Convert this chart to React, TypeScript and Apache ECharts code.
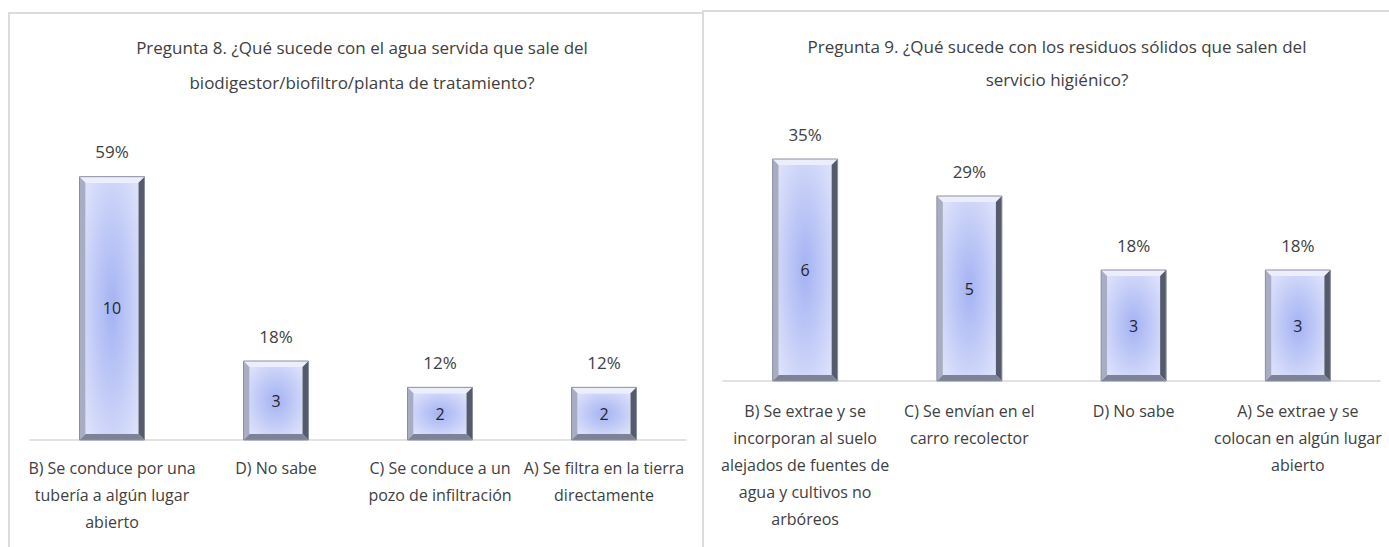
import React, { useEffect, useRef } from "react";
import * as echarts from "echarts";

const categories8 = [
  "B) Se conduce por una\ntubería a algún lugar\nabierto",
  "D) No sabe",
  "C) Se conduce a un\npozo de infiltración",
  "A) Se filtra en la tierra\ndirectamente",
];
const counts8 = [10, 3, 2, 2];
const pct8 = ["59%", "18%", "12%", "12%"];

const categories9 = [
  "B) Se extrae y se\nincorporan al suelo\nalejados de fuentes de\nagua y cultivos no\narbóreos",
  "C) Se envían en el\ncarro recolector",
  "D) No sabe",
  "A) Se extrae y se\ncolocan en algún lugar\nabierto",
];
const counts9 = [6, 5, 3, 3];
const pct9 = ["35%", "29%", "18%", "18%"];

const title8 = "Pregunta 8. ¿Qué sucede con el agua servida que sale del\nbiodigestor/biofiltro/planta de tratamiento?";
const title9 = "Pregunta 9. ¿Qué sucede con los residuos sólidos que salen del\nservicio higiénico?";

const FONT = "'Liberation Sans Narrow', 'Open Sans', sans-serif";
const TXT = "#404040";

function makeRender(pcts: string[]) {
  return (params: any, api: any) => {
    const idx = api.value(0);
    const v = api.value(1);
    const top = api.coord([idx, v]);
    const base = api.coord([idx, 0]);
    const w = 65;
    const b = 6;
    const x0 = top[0] - w / 2;
    const x1 = x0 + w;
    const y0 = top[1];
    const y1 = base[1];
    const h = y1 - y0;
    const cx = top[0];
    return {
      type: "group",
      children: [
        {
          type: "rect",
          shape: { x: x0 + b, y: y0 + b, width: w - 2 * b, height: h - 2 * b },
          style: {
            fill: new echarts.graphic.RadialGradient(0.5, 0.5, 0.75, [
              { offset: 0, color: "#a4b2f3" },
              { offset: 0.6, color: "#cad2f8" },
              { offset: 1, color: "#e2e6fb" },
            ]),
          },
        },
        {
          type: "polygon",
          shape: { points: [[x0, y0], [x1, y0], [x1 - b, y0 + b], [x0 + b, y0 + b]] },
          style: { fill: "#eceefb" },
        },
        {
          type: "polygon",
          shape: { points: [[x0, y0], [x0 + b, y0 + b], [x0 + b, y1 - b], [x0, y1]] },
          style: { fill: "#a9adc4" },
        },
        {
          type: "polygon",
          shape: { points: [[x1, y0], [x1, y1], [x1 - b, y1 - b], [x1 - b, y0 + b]] },
          style: { fill: "#555a6c" },
        },
        {
          type: "polygon",
          shape: { points: [[x0, y1], [x1, y1], [x1 - b, y1 - b], [x0 + b, y1 - b]] },
          style: { fill: "#7d8298" },
        },
        {
          type: "rect",
          shape: { x: x0, y: y0, width: w, height: h },
          style: { fill: "none", stroke: "#8a8ea2", lineWidth: 1 },
        },
        {
          type: "text",
          style: {
            x: cx,
            y: y0 + h / 2,
            text: String(v),
            align: "center",
            verticalAlign: "middle",
            fill: "#262626",
            font: `16px ${FONT}`,
          },
        },
        {
          type: "text",
          style: {
            x: cx,
            y: y0 - 25,
            text: pcts[idx],
            align: "center",
            verticalAlign: "middle",
            fill: TXT,
            font: `17px ${FONT}`,
          },
        },
      ],
    };
  };
}

export default function App() {
  const ref = useRef<HTMLDivElement>(null);
  useEffect(() => {
    if (!ref.current) return;
    const chart = echarts.init(ref.current, null, { renderer: "svg" });
    const axisCommon = {
      type: "category" as const,
      axisTick: { show: false },
      axisLine: { lineStyle: { color: "#d9d9d9", width: 1.5 } },
      axisLabel: {
        interval: 0,
        color: TXT,
        fontFamily: FONT,
        fontSize: 16,
        lineHeight: 27,
        align: "center",
      },
    };
    chart.setOption({
      animation: false,
      backgroundColor: "#ffffff",
      title: [
        {
          text: title8,
          left: 357,
          top: 25,
          textAlign: "center",
          textStyle: { color: TXT, fontFamily: FONT, fontSize: 17, fontWeight: "normal", lineHeight: 35 },
        },
        {
          text: title9,
          left: 1052,
          top: 25,
          textAlign: "center",
          textStyle: { color: TXT, fontFamily: FONT, fontSize: 17, fontWeight: "normal", lineHeight: 33 },
        },
      ],
      graphic: [
        { type: "line", shape: { x1: 8, y1: 13, x2: 702, y2: 13 }, style: { stroke: "#dcdcdc", lineWidth: 2 } },
        { type: "line", shape: { x1: 9, y1: 13, x2: 9, y2: 547 }, style: { stroke: "#dcdcdc", lineWidth: 2 } },
        { type: "line", shape: { x1: 702, y1: 11, x2: 1389, y2: 11 }, style: { stroke: "#dcdcdc", lineWidth: 2 } },
        { type: "line", shape: { x1: 703, y1: 11, x2: 703, y2: 547 }, style: { stroke: "#dcdcdc", lineWidth: 2 } },
      ],
      grid: [
        { left: 30, right: 703, top: 124, bottom: 107 },
        { left: 723, right: 9, top: 122, bottom: 166 },
      ],
      xAxis: [
        { ...axisCommon, gridIndex: 0, data: categories8, axisLabel: { ...axisCommon.axisLabel, margin: 14 } },
        { ...axisCommon, gridIndex: 1, data: categories9, axisLabel: { ...axisCommon.axisLabel, margin: 16 } },
      ],
      yAxis: [
        { type: "value", gridIndex: 0, min: 0, max: 12, show: false, splitLine: { show: false } },
        { type: "value", gridIndex: 1, min: 0, max: 7, show: false, splitLine: { show: false } },
      ],
      series: [
        {
          type: "custom",
          xAxisIndex: 0,
          yAxisIndex: 0,
          encode: { x: 0, y: 1 },
          data: counts8.map((v, i) => [i, v]),
          renderItem: makeRender(pct8),
        },
        {
          type: "custom",
          xAxisIndex: 1,
          yAxisIndex: 1,
          encode: { x: 0, y: 1 },
          data: counts9.map((v, i) => [i, v]),
          renderItem: makeRender(pct9),
        },
      ],
    });
    return () => chart.dispose();
  }, []);
  return (
    <div
      ref={ref}
      style={{ position: "absolute", left: 0, top: 0, width: 1389, height: 547 }}
    />
  );
}
